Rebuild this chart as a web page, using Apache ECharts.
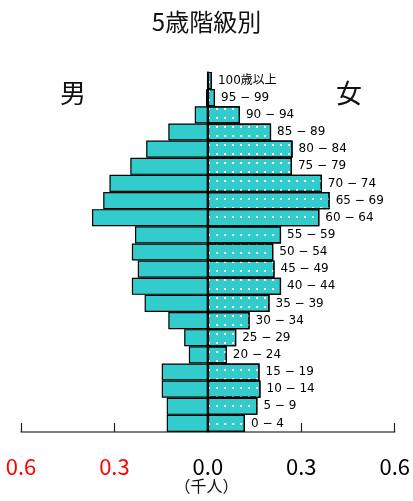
<!DOCTYPE html>
<html>
<head>
<meta charset="utf-8">
<style>html,body{margin:0;padding:0;background:#fff;}#chart{width:413px;height:501px;}</style>
<script src="https://cdn.jsdelivr.net/npm/echarts@6/dist/echarts.min.js"></script>
</head>
<body>
<div id="chart"></div>
<script>
const ageGroups = ['0 − 4','5 − 9','10 − 14','15 − 19','20 − 24','25 − 29','30 − 34','35 − 39','40 − 44','45 − 49','50 − 54','55 − 59','60 − 64','65 − 69','70 − 74','75 − 79','80 − 84','85 − 89','90 − 94','95 − 99','100歳以上'];
const male = [0.132,0.132,0.148,0.148,0.061,0.076,0.127,0.203,0.244,0.225,0.244,0.234,0.372,0.336,0.316,0.249,0.198,0.127,0.042,0.006,0.002];
const female = [0.119,0.159,0.169,0.166,0.061,0.091,0.134,0.198,0.235,0.214,0.210,0.235,0.358,0.391,0.366,0.270,0.272,0.203,0.103,0.023,0.013];
const tickValues = [-0.6,-0.3,0,0.3,0.6];

const FONT = '"Noto Sans CJK JP", "Noto Sans", sans-serif';
const LFONT = '"DejaVu Sans", "Noto Sans CJK JP", sans-serif';
const CYAN = '#33CCCC';
const chart = echarts.init(document.getElementById('chart'), null, {renderer:'canvas'});
chart.setOption({
  animation: false,
  backgroundColor: '#fff',
  title: {
    text: '5歳階級別', left: 'center', top: 5,
    textStyle: {fontFamily: FONT, fontSize: 24, fontWeight: 'normal', color: '#111'}
  },
  graphic: [
    {type:'text', left: 60, top: 80, style:{text:'男', font:'26px ' + FONT, fill:'#111'}},
    {type:'text', left: 336, top: 80, style:{text:'女', font:'26px ' + FONT, fill:'#111'}},
    {type:'text', left: 'center', top: 478, style:{text:'（千人）', font:'16px ' + FONT, fill:'#111'}}
  ],
  grid: {left: 21, right: 17, top: 72, bottom: 69, containLabel: false},
  xAxis: {
    type: 'value', min: -0.6, max: 0.6, interval: 0.3,
    axisLine: {show: true, lineStyle: {color: '#555', width: 1.5}},
    axisTick: {show: true, inside: true, length: 9, lineStyle: {color: '#222', width: 1.2}},
    splitLine: {show: false},
    axisLabel: {
      margin: 24, fontSize: 22, fontFamily: FONT,
      formatter: v => Math.abs(v).toFixed(1),
      color: v => (v < 0 ? '#ff0000' : '#000')
    }
  },
  yAxis: {
    type: 'category', data: ageGroups,
    axisLine: {show: true, onZero: true, lineStyle: {color: '#000', width: 1.5}},
    axisTick: {show: false}, axisLabel: {show: false}, splitLine: {show: false}
  },
  series: [
    {
      name: '男', type: 'bar', data: male.map(v => -v),
      barCategoryGap: 0, barGap: '-100%',
      itemStyle: {color: CYAN, borderColor: '#000', borderWidth: 1.2}
    },
    {
      name: '女', type: 'bar', data: female,
      barCategoryGap: 0, barGap: '-100%',
      itemStyle: {
        color: CYAN, borderColor: '#000', borderWidth: 1.2,
        decal: {symbol: 'rect', symbolSize: 1, color: '#ffffff', dashArrayX: [2, 5.7], dashArrayY: [2, 6.5], rotation: 0}
      },
      label: {
        show: true, position: 'right', distance: 6,
        formatter: p => ageGroups[p.dataIndex],
        fontFamily: LFONT, fontSize: 12, color: '#000'
      }
    }
  ]
});
</script>
</body>
</html>
